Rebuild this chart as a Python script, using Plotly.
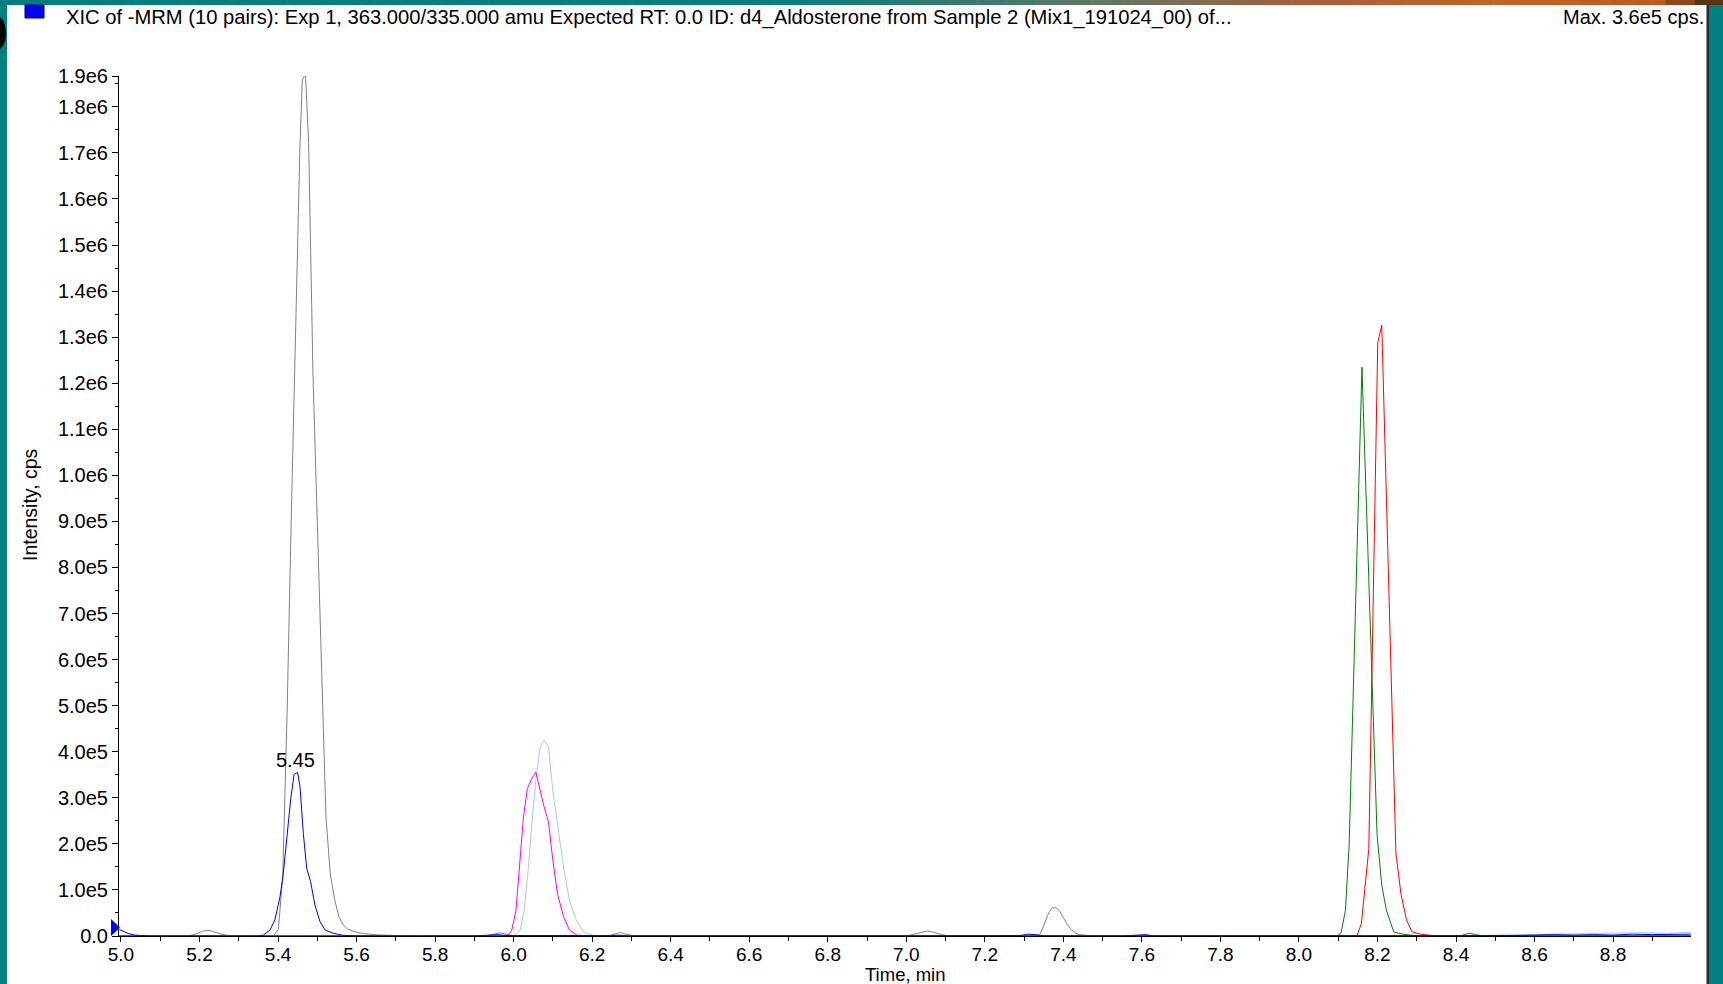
import plotly.graph_objects as go

# ---------------- data ----------------
blue_t = [4.996, 5.008, 5.02, 5.035, 5.05, 5.07, 5.2, 5.35, 5.3626, 5.3796, 5.392, 5.405, 5.4135,
          5.422, 5.432, 5.4408, 5.450, 5.456, 5.4645, 5.473, 5.483, 5.494, 5.507, 5.52, 5.541,
          5.566, 5.6, 5.9, 5.94, 5.96, 5.98, 6.2, 6.25, 6.27, 6.29, 7.0, 7.29, 7.31, 7.33, 7.35,
          7.55, 7.59, 7.61, 7.63, 8.5, 8.55, 8.6, 8.65, 8.7, 8.75, 8.8, 8.85, 8.9, 8.95, 8.998]
blue_v = [1.4e4, 9e3, 5e3, 2e3, 1e3, 0, 0, 0, 2e3, 1.3e4, 3.5e4, 8.5e4, 1.36e5,
          2.08e5, 2.95e5, 3.51e5, 3.55e5, 3.24e5, 2.22e5, 1.47e5, 1.18e5, 6.7e4, 3.1e4, 1.3e4, 5.8e3,
          1.5e3, 0, 0, 2e3, 3e3, 1e3, 0, 1e3, 2e3, 0, 0, 1e3, 4e3, 3e3, 0,
          0, 2e3, 3e3, 0, 0, 1e3, 2e3, 3e3, 2e3, 3e3, 2e3, 4e3, 3e3, 3e3, 4e3]

gray_t = [4.996, 5.17, 5.19, 5.21, 5.225, 5.24, 5.26, 5.28, 5.38, 5.39, 5.401, 5.412, 5.423, 5.434,
          5.445, 5.456, 5.462, 5.470, 5.478, 5.489, 5.500, 5.511, 5.522, 5.533, 5.544, 5.555,
          5.566, 5.577, 5.588, 5.600, 5.62, 5.65, 5.70, 5.75, 5.93, 5.95, 5.965, 5.98, 6.0,
          6.24, 6.26, 6.272, 6.285, 6.31, 7.0, 7.02, 7.04, 7.055, 7.07, 7.09, 7.11, 7.33, 7.34,
          7.35, 7.36, 7.37, 7.38, 7.39, 7.40, 7.41, 7.42, 7.43, 7.44, 7.46, 7.48, 8.998]
gray_v = [0, 0, 4e3, 1.1e4, 1.2e4, 8e3, 3e3, 0, 0, 2e3, 1.5e4, 1.3e5, 4.8e5, 9.2e5,
          1.35e6, 1.72e6, 1.86e6, 1.87e6, 1.72e6, 1.22e6, 9.0e5, 5.6e5, 2.6e5, 1.35e5, 8.0e4, 4.2e4,
          2.4e4, 1.5e4, 1.1e4, 8e3, 5e3, 2.5e3, 1e3, 0, 0, 4e3, 7e3, 4e3, 0,
          0, 4e3, 8e3, 4e3, 0, 0, 4e3, 9e3, 1.1e4, 8e3, 3e3, 0, 0, 3e3,
          2.2e4, 4.5e4, 6.0e4, 6.2e4, 5.5e4, 4.0e4, 2.5e4, 1.4e4, 7e3, 3e3, 1e3, 0, 0]

magenta_t = [4.996, 5.97, 5.987, 5.9954, 6.006, 6.0166, 6.025, 6.035, 6.0464, 6.0565, 6.0675,
             6.0777, 6.0887, 6.0998, 6.1116, 6.127, 6.142, 6.161, 6.18, 8.998]
magenta_v = [0, 0, 2e3, 1.3e4, 5.6e4, 1.65e5, 2.58e5, 3.2e5, 3.42e5, 3.56e5, 3.16e5,
             2.8e5, 2.48e5, 1.65e5, 9.2e4, 4.2e4, 1.3e4, 2e3, 0, 0]

lightblue_t = [4.996, 5.99, 6.0038, 6.0166, 6.0268, 6.0378, 6.0464, 6.0573, 6.0675, 6.0777,
               6.0887, 6.0998, 6.1116, 6.127, 6.142, 6.1592, 6.178, 6.199, 6.22, 8.45, 8.5,
               8.6, 8.7, 8.8, 8.87, 8.95, 8.998]
lightblue_v = [0, 0, 2e3, 1.3e4, 5.6e4, 1.5e5, 2.44e5, 3.45e5, 4.1e5, 4.25e5,
               4.1e5, 3.16e5, 2.44e5, 1.5e5, 7.8e4, 3.5e4, 9e3, 2e3, 0, 0, 2e3,
               3e3, 4e3, 5e3, 7e3, 6e3, 8e3]

green_t = [4.996, 8.09, 8.099, 8.1074, 8.1185, 8.128, 8.1605, 8.199, 8.211, 8.223, 8.2415,
           8.264, 8.295, 8.33, 8.41, 8.425, 8.435, 8.45, 8.47, 8.998]
green_v = [0, 0, 1e3, 7e3, 5.6e4, 2.0e5, 1.235e6, 2.2e5, 1.1e5, 5.5e4, 9e3,
           4e3, 1e3, 0, 0, 4e3, 6e3, 3e3, 0, 0]

red_t = [4.996, 8.14, 8.148, 8.159, 8.178, 8.2007, 8.206, 8.211, 8.247, 8.26, 8.274, 8.288,
         8.31, 8.34, 8.37, 8.998]
red_v = [0, 0, 1e3, 2.7e4, 1.9e5, 1.288e6, 1.31e6, 1.326e6, 1.8e5, 9e4, 3.5e4, 9e3,
         4e3, 1e3, 0, 0]

x_tick_vals = [5.0, 5.2, 5.4, 5.6, 5.8, 6.0, 6.2, 6.4, 6.6, 6.8, 7.0, 7.2, 7.4, 7.6, 7.8,
               8.0, 8.2, 8.4, 8.6, 8.8]
x_tick_text = ["5.0", "5.2", "5.4", "5.6", "5.8", "6.0", "6.2", "6.4", "6.6", "6.8", "7.0",
               "7.2", "7.4", "7.6", "7.8", "8.0", "8.2", "8.4", "8.6", "8.8"]
x_minor_vals = [5.1, 5.3, 5.5, 5.7, 5.9, 6.1, 6.3, 6.5, 6.7, 6.9, 7.1, 7.3, 7.5, 7.7, 7.9,
                8.1, 8.3, 8.5, 8.7, 8.9]
y_tick_vals = [0, 1e5, 2e5, 3e5, 4e5, 5e5, 6e5, 7e5, 8e5, 9e5, 1.0e6, 1.1e6, 1.2e6, 1.3e6,
               1.4e6, 1.5e6, 1.6e6, 1.7e6, 1.8e6, 1.867e6]
y_tick_text = ["0.0", "1.0e5", "2.0e5", "3.0e5", "4.0e5", "5.0e5", "6.0e5", "7.0e5", "8.0e5",
               "9.0e5", "1.0e6", "1.1e6", "1.2e6", "1.3e6", "1.4e6", "1.5e6", "1.6e6", "1.7e6",
               "1.8e6", "1.9e6"]
y_minor_vals = [0.5e5, 1.5e5, 2.5e5, 3.5e5, 4.5e5, 5.5e5, 6.5e5, 7.5e5, 8.5e5, 9.5e5, 1.05e6,
                1.15e6, 1.25e6, 1.35e6, 1.45e6, 1.55e6, 1.65e6, 1.75e6, 1.85e6]

title_text = ("XIC of -MRM (10 pairs): Exp 1, 363.000/335.000 amu Expected RT: 0.0 ID: "
              "d4_Aldosterone from Sample 2 (Mix1_191024_00) of...")
max_text = "Max. 3.6e5 cps."
peak_label = "5.45"
peak_label_t = 5.45
peak_label_v = 3.55e5

# ---------------- layout geometry ----------------
W, H = 1723, 984
L, R, T, B = 119, 32, 76, 48
PW = W - L - R
PH = H - T - B


def px(x):
    return (x - L) / PW


def py(y):
    return (H - B - y) / PH


FONT = "Arial, Liberation Sans, sans-serif"
FS = 20

fig = go.Figure()
series = [
    (gray_t, gray_v, "#808080"),
    (lightblue_t, lightblue_v, "#a6caf0"),
    (magenta_t, magenta_v, "#ff00ff"),
    (green_t, green_v, "#008000"),
    (red_t, red_v, "#ff0000"),
    (blue_t, blue_v, "#0000ff"),
]
for t, v, c in series:
    fig.add_trace(go.Scatter(x=t, y=v, mode="lines", line=dict(color=c, width=1),
                             showlegend=False, hoverinfo="skip", cliponaxis=True))

shapes = []
# teal frame
shapes.append(dict(type="rect", xref="paper", yref="paper", x0=px(0), x1=px(7), y0=py(H), y1=py(0),
                   fillcolor="#008080", line=dict(width=0), layer="above"))
shapes.append(dict(type="rect", xref="paper", yref="paper", x0=px(1709), x1=px(W), y0=py(H), y1=py(0),
                   fillcolor="#008080", line=dict(width=0), layer="above"))
shapes.append(dict(type="rect", xref="paper", yref="paper", x0=px(1706.5), x1=px(1709), y0=py(H), y1=py(5),
                   fillcolor="#2a2a2a", line=dict(width=0), layer="above"))
# top gradient strip
stops = [(0, (0, 128, 128)), (800, (10, 126, 122)), (1100, (95, 120, 100)), (1300, (165, 95, 60)),
         (1500, (196, 100, 36)), (1650, (190, 92, 30)), (1723, (70, 40, 20))]
n = 60
for i in range(n):
    xa = W * i / n
    xb = W * (i + 1) / n
    xm = (xa + xb) / 2
    for j in range(len(stops) - 1):
        if stops[j][0] <= xm <= stops[j + 1][0]:
            f = (xm - stops[j][0]) / (stops[j + 1][0] - stops[j][0])
            col = tuple(int(stops[j][1][k] + f * (stops[j + 1][1][k] - stops[j][1][k])) for k in range(3))
            break
    shapes.append(dict(type="rect", xref="paper", yref="paper", x0=px(xa), x1=px(xb + 0.5),
                       y0=py(5), y1=py(0), fillcolor="rgb(%d,%d,%d)" % col,
                       line=dict(width=0), layer="above"))
# black blob on left edge
shapes.append(dict(type="circle", xref="paper", yref="paper", x0=px(-12), x1=px(6), y0=py(50), y1=py(16),
                   fillcolor="black", line=dict(width=0), layer="above"))
# legend square
shapes.append(dict(type="rect", xref="paper", yref="paper", x0=px(25), x1=px(44), y0=py(18), y1=py(5),
                   fillcolor="#0000ff", line=dict(width=1, color="#000060"), layer="above"))
# threshold triangle marker
tri = "M %f %f L %f %f L %f %f Z" % (px(111), py(919), px(120), py(927.5), px(111), py(936))
shapes.append(dict(type="path", xref="paper", yref="paper", path=tri, fillcolor="#0000ff",
                   line=dict(width=0), layer="above"))

annotations = [
    dict(text=title_text, xref="paper", yref="paper", x=px(64), y=py(17), xanchor="left",
         yanchor="middle", showarrow=False, font=dict(family=FONT, size=20.2, color="black")),
    dict(text=max_text, xref="paper", yref="paper", x=px(1706), y=py(17), xanchor="right",
         yanchor="middle", showarrow=False, font=dict(family=FONT, size=FS, color="black")),
    dict(text="Time, min", xref="paper", yref="paper", x=px(905), y=py(974), xanchor="center",
         yanchor="middle", showarrow=False, font=dict(family=FONT, size=18.5, color="black")),
    dict(text="Intensity, cps", xref="paper", yref="paper", x=px(30), y=py(505), xanchor="center",
         yanchor="middle", textangle=-90, showarrow=False, font=dict(family=FONT, size=19.5, color="black")),
    dict(text=peak_label, x=peak_label_t, y=peak_label_v, xref="x", yref="y", xanchor="center",
         yanchor="bottom", xshift=-2, yshift=-1, showarrow=False,
         font=dict(family=FONT, size=FS, color="black")),
]

fig.update_layout(
    width=W, height=H,
    margin=dict(l=L, r=R, t=T, b=B, pad=0),
    paper_bgcolor="white", plot_bgcolor="white",
    font=dict(family=FONT, size=FS, color="black"),
    shapes=shapes, annotations=annotations,
    showlegend=False,
    xaxis=dict(range=[4.995, 8.9985], showline=True, linecolor="black", linewidth=1,
               ticks="outside", ticklen=5, tickwidth=1, tickcolor="black",
               tickmode="array", tickvals=x_tick_vals, ticktext=x_tick_text,
               ticklabelstandoff=-4,
               minor=dict(tickmode="array", tickvals=x_minor_vals, ticks="outside", ticklen=4,
                          tickcolor="black", tickwidth=1, showgrid=False),
               showgrid=False, zeroline=False, layer="below traces",
               tickfont=dict(family=FONT, size=19, color="black")),
    yaxis=dict(range=[0, 1.867e6], showline=True, linecolor="black", linewidth=1,
               ticks="outside", ticklen=6, tickwidth=1, tickcolor="black",
               tickmode="array", tickvals=y_tick_vals, ticktext=y_tick_text,
               minor=dict(tickmode="array", tickvals=y_minor_vals, ticks="outside", ticklen=3,
                          tickcolor="black", tickwidth=1, showgrid=False),
               showgrid=False, zeroline=False, layer="below traces",
               tickfont=dict(family=FONT, size=FS, color="black")),
)

fig.write_html("out.html")
